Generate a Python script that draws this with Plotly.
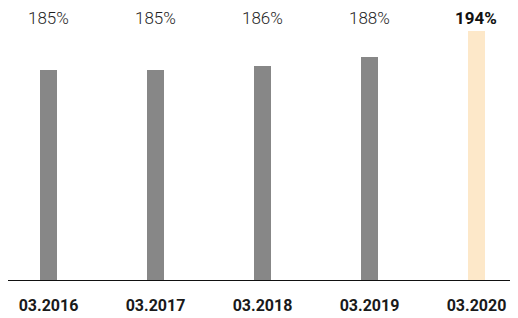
import plotly.graph_objects as go

categories = ["03.2016", "03.2017", "03.2018", "03.2019", "03.2020"]
values = [185, 185, 186, 188, 194]
labels = ["185%", "185%", "186%", "188%", "194%"]
colors = ["#878787", "#878787", "#878787", "#878787", "#fde8c9"]

xpos = list(range(len(categories)))

fig = go.Figure()
fig.add_trace(go.Bar(
    x=xpos, y=values, width=0.16,
    marker=dict(color=colors, line=dict(width=0)),
    hoverinfo="skip",
))

for i, lab in enumerate(labels):
    last = i == len(labels) - 1
    fig.add_annotation(
        x=xpos[i], y=0.963, xref="x", yref="paper",
        text=lab, showarrow=False, yanchor="middle",
        font=dict(family="Roboto", size=17,
                  color="#111111" if last else "#1e1e1e",
                  weight=700 if last else 300),
    )

fig.update_layout(
    width=510, height=310,
    margin=dict(l=0, r=0, t=0, b=38),
    paper_bgcolor="white", plot_bgcolor="white",
    showlegend=False,
    bargap=0,
    xaxis=dict(
        range=[-0.3785, 4.388],
        tickmode="array", tickvals=xpos, ticktext=categories,
        showline=True, linecolor="#111111", linewidth=1,
        showgrid=False, zeroline=False, ticks="",
        ticklabelstandoff=11,
        tickfont=dict(family="Roboto", size=16, color="#1a1a1a", weight=700),
    ),
    yaxis=dict(
        range=[137.7, 199.1], visible=False, showgrid=False, zeroline=False,
    ),
)

fig.write_html("out.html")
